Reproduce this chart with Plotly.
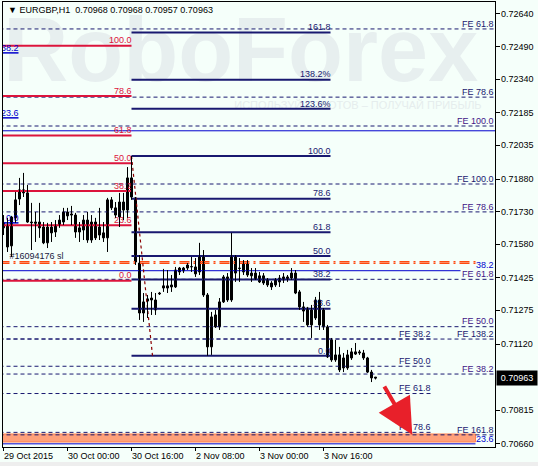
import plotly.graph_objects as go

# ---------------- data ----------------
SYMBOL = "EURGBP,H1"
HEADER_OHLC = ["0.70968", "0.70968", "0.70957", "0.70963"]

open_ = [0.71655, 0.71668, 0.71572, 0.71701, 0.71788, 0.71830, 0.71816, 0.71682, 0.71682, 0.71682,
         0.71659, 0.71586, 0.71659, 0.71636, 0.71668, 0.71682, 0.71728, 0.71719, 0.71714, 0.71655,
         0.71645, 0.71691, 0.71599, 0.71682, 0.71622, 0.71632, 0.71609, 0.71747, 0.71747, 0.71705,
         0.71774, 0.71737, 0.71885, 0.71793, 0.71493, 0.71263, 0.71328, 0.71332, 0.71323, 0.71355,
         0.71388, 0.71378, 0.71392, 0.71383, 0.71470, 0.71457, 0.71470, 0.71475, 0.71475, 0.71452,
         0.71521, 0.71346, 0.71107, 0.71254, 0.71199, 0.71314, 0.71429, 0.71323, 0.71521, 0.71470,
         0.71452, 0.71493, 0.71434, 0.71447, 0.71434, 0.71434, 0.71415, 0.71401, 0.71392, 0.71406,
         0.71415, 0.71420, 0.71424, 0.71447, 0.71360, 0.71291, 0.71286, 0.71208, 0.71240, 0.71323,
         0.71277, 0.71199, 0.71139, 0.71047, 0.71070, 0.71010, 0.71010, 0.71056, 0.71084, 0.71079,
         0.71079, 0.71056, 0.70991, 0.70968]
high = [0.71714, 0.71701, 0.71710, 0.71820, 0.71885, 0.71908, 0.71853, 0.71770, 0.71728, 0.71770,
        0.71682, 0.71678, 0.71682, 0.71691, 0.71714, 0.71747, 0.71747, 0.71756, 0.71724, 0.71682,
        0.71714, 0.71728, 0.71714, 0.71701, 0.71747, 0.71682, 0.71793, 0.71797, 0.71774, 0.71816,
        0.71816, 0.71935, 0.71986, 0.71797, 0.71530, 0.71355, 0.71346, 0.71360, 0.71355, 0.71360,
        0.71466, 0.71461, 0.71438, 0.71475, 0.71475, 0.71475, 0.71493, 0.71521, 0.71516, 0.71586,
        0.71553, 0.71355, 0.71268, 0.71277, 0.71332, 0.71438, 0.71447, 0.71632, 0.71530, 0.71516,
        0.71507, 0.71507, 0.71470, 0.71470, 0.71452, 0.71447, 0.71424, 0.71410, 0.71424, 0.71438,
        0.71447, 0.71438, 0.71470, 0.71461, 0.71369, 0.71314, 0.71291, 0.71300, 0.71337, 0.71360,
        0.71286, 0.71208, 0.71148, 0.71139, 0.71107, 0.71079, 0.71093, 0.71102, 0.71125, 0.71093,
        0.71093, 0.71061, 0.71001, 0.70968]
low = [0.71622, 0.71544, 0.71521, 0.71678, 0.71760, 0.71797, 0.71678, 0.71553, 0.71590, 0.71609,
       0.71580, 0.71562, 0.71590, 0.71613, 0.71655, 0.71668, 0.71691, 0.71668, 0.71609, 0.71590,
       0.71599, 0.71586, 0.71586, 0.71599, 0.71599, 0.71590, 0.71544, 0.71737, 0.71701, 0.71659,
       0.71691, 0.71701, 0.71784, 0.71484, 0.71231, 0.71222, 0.71240, 0.71254, 0.71254, 0.71346,
       0.71360, 0.71355, 0.71360, 0.71378, 0.71438, 0.71447, 0.71461, 0.71452, 0.71429, 0.71438,
       0.71337, 0.71066, 0.71070, 0.71194, 0.71185, 0.71309, 0.71314, 0.71314, 0.71406, 0.71406,
       0.71438, 0.71429, 0.71406, 0.71415, 0.71401, 0.71392, 0.71383, 0.71369, 0.71383, 0.71383,
       0.71401, 0.71406, 0.71415, 0.71350, 0.71277, 0.71222, 0.71199, 0.71148, 0.71231, 0.71185,
       0.71185, 0.71056, 0.71038, 0.71038, 0.70991, 0.70991, 0.71001, 0.71047, 0.71070, 0.71070,
       0.71047, 0.70987, 0.70945, 0.70957]
close = [0.71678, 0.71567, 0.71705, 0.71784, 0.71830, 0.71816, 0.71682, 0.71678, 0.71676, 0.71655,
         0.71586, 0.71659, 0.71632, 0.71668, 0.71691, 0.71728, 0.71710, 0.71714, 0.71636, 0.71636,
         0.71691, 0.71599, 0.71682, 0.71609, 0.71659, 0.71609, 0.71784, 0.71784, 0.71714, 0.71774,
         0.71737, 0.71885, 0.71797, 0.71498, 0.71263, 0.71314, 0.71318, 0.71323, 0.71277, 0.71351,
         0.71378, 0.71388, 0.71383, 0.71461, 0.71452, 0.71470, 0.71484, 0.71477, 0.71443, 0.71521,
         0.71346, 0.71107, 0.71245, 0.71199, 0.71314, 0.71429, 0.71323, 0.71521, 0.71447, 0.71468,
         0.71493, 0.71438, 0.71447, 0.71420, 0.71406, 0.71401, 0.71392, 0.71383, 0.71415, 0.71424,
         0.71429, 0.71429, 0.71447, 0.71355, 0.71291, 0.71272, 0.71208, 0.71277, 0.71323, 0.71208,
         0.71199, 0.71061, 0.71047, 0.71070, 0.71001, 0.71056, 0.71070, 0.71084, 0.71074, 0.71084,
         0.71056, 0.70991, 0.70964, 0.70963]
bar_index = list(range(len(open_)))

TIME_TICKS = [0, 16, 32, 48, 64, 80]
TIME_LABELS = ["29 Oct 2015", "30 Oct 00:00", "30 Oct 16:00", "2 Nov 08:00", "3 Nov 00:00", "3 Nov 16:00"]
PRICE_TICKS = [0.72640, 0.72490, 0.72340, 0.72185, 0.72035, 0.71880, 0.71730, 0.71580,
               0.71425, 0.71275, 0.71120, 0.70815, 0.70660]
LAST_PRICE = 0.70963

# Fibonacci retracement (navy) anchored on the swing high / low
NAVY_FIB_HI, NAVY_FIB_LO = 0.71986, 0.71066
NAVY_FIB_T1, NAVY_FIB_T2 = 32, 37.25
NAVY_FIB_RATIOS = [0, 23.6, 38.2, 50, 61.8, 78.6, 100, 123.6, 138.2, 161.8]
NAVY_FIB_LABELS = ["0.0", "23.6", "38.2", "50.0", "61.8", "78.6", "100.0", "123.6%", "138.2%", "161.8"]

# Fibonacci retracement (red)
RED_FIB_0, RED_FIB_100 = 0.71412, 0.72494
RED_FIB_RATIOS = [0, 23.6, 38.2, 50, 61.8, 78.6, 100]
RED_FIB_LABELS = ["0.0", "23.6", "38.2", "50.0", "61.8", "78.6", "100.0"]

# Fibonacci retracement (blue, left, mostly off-screen)
BLUE1_FIB_0, BLUE1_FIB_SPAN = 0.71678, 0.02049
BLUE1_RATIOS = [0, 23.6, 38.2]
BLUE1_LABELS = ["0.0", "23.6", "38.2"]

# Fibonacci retracement (blue, right)
BLUE2_FIB_0, BLUE2_FIB_SPAN = 0.69372, 0.0546
BLUE2_RATIOS = [23.6, 38.2, 50]
BLUE2_LABELS = ["23.6", "38.2", ""]

# Fibonacci expansions (price of the 0 level, price span of 100 %)
FE_A_0, FE_A_SPAN = 0.73726, -0.01869
FE_A_RATIOS = [61.8, 78.6, 100, 138.2, 161.8]
FE_A_LABELS = ["FE 61.8", "FE 78.6", "FE 100.0", "FE 138.2", "FE 161.8"]
FE_B_0, FE_B_SPAN = 0.70276, 0.01848
FE_B_RATIOS = [38.2, 50, 61.8, 78.6, 100]
FE_B_LABELS = ["FE 38.2", "FE 50.0", "FE 61.8", "FE 78.6", "FE 100.0"]
FE_C_0, FE_C_SPAN = 0.71550, -0.010644
FE_C_RATIOS = [38.2, 50, 61.8, 78.6]
FE_C_LABELS = ["FE 38.2", "FE 50.0", "FE 61.8", "FE 78.6"]

SL_PRICES = [0.71500, 0.71492]
SL_LABEL = "#16094176 sl"
TARGET_ZONE = (0.70669, 0.70706)

WATERMARK = "RoboForex"
SLOGAN = "ИСПОЛЬЗУЙ РОБОТОВ – ПОЛУЧАЙ ПРИБЫЛЬ"

# ---------------- drawing ----------------
FONT = "Liberation Sans, Arial, sans-serif"
NAVY = "#191970"
CRIMSON = "#DC143C"
BLUE = "#0000CD"
INDIGO = "#3F1587"
X_LEFT, X_RIGHT = -1, 124


def levels(base, span, ratios):
    return [base + span * r / 100.0 for r in ratios]


def seg_trace(ys, x0, x1, color, width, dash="solid"):
    xs, yy = [], []
    for y in ys:
        xs += [x0, x1, None]
        yy += [y, y, None]
    return go.Scatter(x=xs, y=yy, mode="lines", line=dict(color=color, width=width, dash=dash),
                      hoverinfo="skip", showlegend=False)


def label_trace(ys, x, texts, color, pos="top left"):
    return go.Scatter(x=[x] * len(ys), y=ys, mode="text", text=texts, textposition=pos,
                      textfont=dict(family=FONT, size=9, color=color),
                      hoverinfo="skip", showlegend=False, cliponaxis=True)


fig = go.Figure()

# watermark
fig.add_trace(go.Scatter(x=[59.3], y=[0.72437], mode="text", text=["<b>" + WATERMARK + "</b>"],
                         textposition="middle center",
                         textfont=dict(family=FONT, size=90, color="#E7EFEF"),
                         hoverinfo="skip", showlegend=False))
fig.add_trace(go.Scatter(x=[88.6], y=[0.72216], mode="text", text=[SLOGAN],
                         textposition="middle center",
                         textfont=dict(family=FONT, size=11, color="#E5EDED"),
                         hoverinfo="skip", showlegend=False))

navy_lv = levels(NAVY_FIB_LO, NAVY_FIB_HI - NAVY_FIB_LO, NAVY_FIB_RATIOS)
red_lv = levels(RED_FIB_0, RED_FIB_100 - RED_FIB_0, RED_FIB_RATIOS)
b1_lv = levels(BLUE1_FIB_0, BLUE1_FIB_SPAN, BLUE1_RATIOS)
b2_lv = levels(BLUE2_FIB_0, BLUE2_FIB_SPAN, BLUE2_RATIOS)
fa_lv = levels(FE_A_0, FE_A_SPAN, FE_A_RATIOS)
fb_lv = levels(FE_B_0, FE_B_SPAN, FE_B_RATIOS)
fc_lv = levels(FE_C_0, FE_C_SPAN, FE_C_RATIOS)

DASH = "4px,3px"
# FE lines
fig.add_trace(seg_trace(fa_lv, X_LEFT, X_RIGHT, NAVY, 1, DASH))
fig.add_trace(seg_trace(fb_lv, X_LEFT, X_RIGHT, NAVY, 1, DASH))
fig.add_trace(seg_trace(fc_lv, X_LEFT, 106.75, NAVY, 1, DASH))
# blue fib lines
fig.add_trace(seg_trace(b1_lv, X_LEFT, 3.75, BLUE, 1.5))
for y, xe in zip(b2_lv, [118, 114.25, X_RIGHT]):
    fig.add_trace(seg_trace([y], X_LEFT, xe, BLUE, 1))
# SL order lines
fig.add_trace(seg_trace(SL_PRICES, X_LEFT, 118, "#FF4A10", 1.3, "10px,4px,2px,4px"))
# red fib
fig.add_trace(seg_trace(red_lv, X_LEFT, 32, CRIMSON, 2))
# navy fib
fig.add_trace(seg_trace(navy_lv, 32, 81.75, NAVY, 2))
# fib trend line
fig.add_trace(go.Scatter(x=[NAVY_FIB_T1, NAVY_FIB_T2], y=[NAVY_FIB_HI, NAVY_FIB_LO], mode="lines",
                         line=dict(color="#8B0000", width=1.2, dash="3px,3px"),
                         hoverinfo="skip", showlegend=False))

# labels
fig.add_trace(label_trace(fa_lv, 122.5, FE_A_LABELS, NAVY))
fig.add_trace(label_trace(fb_lv, 122.5, FE_B_LABELS, INDIGO))
fig.add_trace(label_trace(fc_lv, 106.75, FE_C_LABELS, NAVY))
fig.add_trace(label_trace(b1_lv, 3.75, BLUE1_LABELS, BLUE))
fig.add_trace(label_trace(b2_lv, 122.5, BLUE2_LABELS, BLUE))
fig.add_trace(label_trace(red_lv, 32, RED_FIB_LABELS, CRIMSON))
fig.add_trace(label_trace(navy_lv, 81.75, NAVY_FIB_LABELS, NAVY))
fig.add_trace(label_trace([SL_PRICES[0]], 1.5, [SL_LABEL], "#1A1A40", pos="top right"))

# candles: wicks then bodies
wx, wy = [], []
for k, h, l in zip(bar_index, high, low):
    wx += [k, k, None]
    wy += [l, h, None]
fig.add_trace(go.Scatter(x=wx, y=wy, mode="lines", line=dict(color="black", width=1),
                         hoverinfo="skip", showlegend=False))
body_base = [min(o, c) for o, c in zip(open_, close)]
body_h = [max(abs(c - o), 0.000012) for o, c in zip(open_, close)]
body_col = ["white" if c > o else "black" for o, c in zip(open_, close)]
fig.add_trace(go.Bar(x=bar_index, y=body_h, base=body_base, width=0.5,
                     marker=dict(color=body_col, line=dict(color="black", width=1)),
                     hoverinfo="skip", showlegend=False))

# target zone
fig.add_shape(type="rect", xref="x", yref="y", x0=X_LEFT, x1=118,
              y0=TARGET_ZONE[0], y1=TARGET_ZONE[1], fillcolor="#FFA07A",
              line=dict(color="#FF8050", width=1), layer="below")
# window strip at bottom
fig.add_shape(type="rect", xref="paper", yref="paper", x0=-0.02, x1=1.2,
              y0=-0.06, y1=-0.0337, fillcolor="#EEEEEE", line=dict(width=0), layer="below")

annotations = []
# arrow
annotations.append(dict(x=102.2, y=0.70702, ax=95, ay=0.70932, xref="x", yref="y",
                        axref="x", ayref="y", showarrow=True, arrowhead=2, arrowsize=1.8,
                        arrowwidth=4, arrowcolor="#E8202A", text=""))
# time labels
for t, lab in zip(TIME_TICKS, TIME_LABELS):
    annotations.append(dict(x=t, y=-0.0205, xref="x", yref="paper", text=lab, showarrow=False,
                            xanchor="left", yanchor="middle", xshift=-2,
                            font=dict(family=FONT, size=9, color="black")))
# price labels
for p in PRICE_TICKS:
    annotations.append(dict(x=1, y=p, xref="paper", yref="y", text=f"{p:.5f}", showarrow=False,
                            xanchor="left", yanchor="middle", xshift=4,
                            font=dict(family=FONT, size=9, color="black")))
# header
annotations.append(dict(x=0.006, y=0.982, xref="paper", yref="paper",
                        text="▼ " + SYMBOL + "\u00a0\u00a0" + " ".join(HEADER_OHLC), showarrow=False,
                        xanchor="left", yanchor="middle", font=dict(family=FONT, size=9, color="black")))
# last price tag
annotations.append(dict(x=1, y=LAST_PRICE, xref="paper", yref="y", text=f"{LAST_PRICE:.5f}",
                        showarrow=False, xanchor="left", yanchor="middle", xshift=1,
                        bgcolor="black", borderpad=2, width=36,
                        font=dict(family=FONT, size=9, color="white")))

fig.update_layout(
    width=538, height=466, autosize=False,
    margin=dict(l=3, r=43, t=2, b=19),
    paper_bgcolor="#F5FFFA", plot_bgcolor="#F5FFFA",
    showlegend=False, annotations=annotations, barmode="overlay",
    xaxis=dict(range=[-0.125, 122.875], showgrid=False, zeroline=False, showline=True, linecolor="black",
               linewidth=1, mirror=True, tickvals=TIME_TICKS, ticks="outside", ticklen=3,
               tickcolor="black", showticklabels=False, fixedrange=True),
    yaxis=dict(range=[0.70646, 0.72695], side="right", showgrid=False, zeroline=False,
               showline=True, linecolor="black", linewidth=1, mirror=True,
               tickvals=PRICE_TICKS, showticklabels=False,
               ticks="outside", ticklen=4, tickcolor="black", fixedrange=True),
)

fig.write_html("out.html", config={"displayModeBar": False})
with open("out.html", encoding="utf-8") as f:
    html = f.read()
html = html.replace("<body>", '<body style="margin:0;padding:0;overflow:hidden">', 1)
with open("out.html", "w", encoding="utf-8") as f:
    f.write(html)
